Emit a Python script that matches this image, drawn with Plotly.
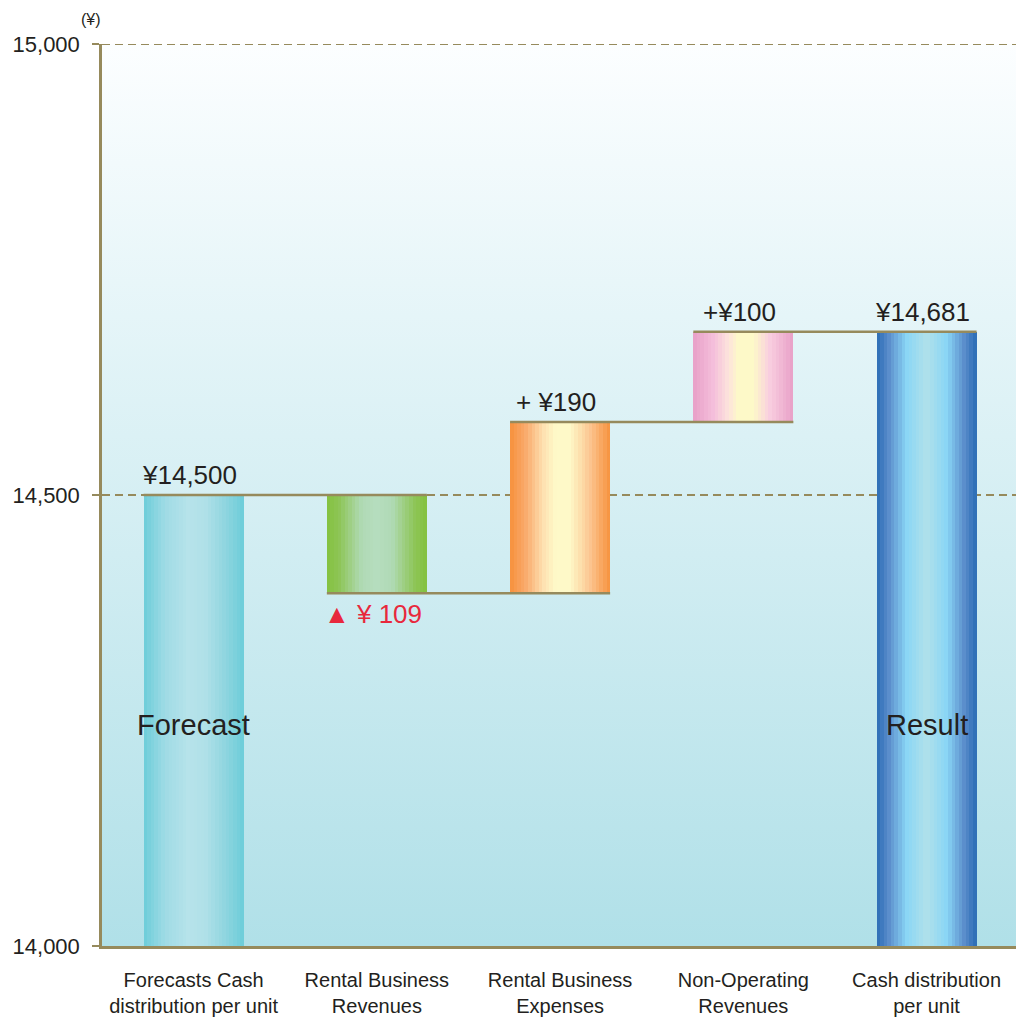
import base64
import plotly.graph_objects as go

# ---------------- data ----------------
categories = [
    "Forecasts Cash<br>distribution per unit",
    "Rental Business<br>Revenues",
    "Rental Business<br>Expenses",
    "Non-Operating<br>Revenues",
    "Cash distribution<br>per unit",
]
forecast_value = 14500
changes = [-109, 190, 100]
result_value = 14681
value_labels = ["¥14,500", "▲ ¥ 109", "+ ¥190", "+¥100", "¥14,681"]
inner_labels = ["Forecast", "", "", "", "Result"]
y_ticks = [14000, 14500, 15000]
y_tick_labels = ["14,000", "14,500", "15,000"]
axis_floor = 14000
axis_ceiling = 15000

# ---------------- style ----------------
FONT = "Liberation Sans, Arial, sans-serif"
OLIVE = "#968a5c"
TEXT = "#231f20"
RED = "#e8283c"
BAR_W = 0.546
N_STRIPS = 28

gradients = [
    [(0, "#6ccdd9"), (0.22, "#a0dbe5"), (0.45, "#b6e3ea"), (0.62, "#b0e0e8"), (0.8, "#92d6e0"), (1, "#6ccdd9")],
    [(0, "#84c13f"), (0.12, "#8dc556"), (0.35, "#b0dab5"), (0.5, "#b6ddbf"), (0.65, "#b0dab5"), (0.88, "#8dc556"), (1, "#84c13f")],
    [(0, "#f7913d"), (0.15, "#f9a96a"), (0.33, "#fee0b0"), (0.45, "#fef9c8"), (0.6, "#fef9c8"), (0.8, "#fcc590"), (1, "#f7913d")],
    [(0, "#e89fc7"), (0.2, "#f4bfdb"), (0.35, "#fde2dc"), (0.45, "#fdf9c8"), (0.6, "#fdf9c8"), (0.76, "#f9cfe0"), (1, "#e89fc7")],
    [(0, "#2a6cb5"), (0.12, "#5a8ccb"), (0.3, "#8ad6f5"), (0.5, "#b0e1ea"), (0.7, "#8ad6f5"), (0.88, "#5a8ccb"), (1, "#2a6cb5")],
]


def hex2rgb(h):
    h = h.lstrip("#")
    return tuple(int(h[i:i + 2], 16) for i in (0, 2, 4))


def interp(stops, t):
    for (p0, c0), (p1, c1) in zip(stops[:-1], stops[1:]):
        if p0 <= t <= p1:
            f = 0 if p1 == p0 else (t - p0) / (p1 - p0)
            a, b = hex2rgb(c0), hex2rgb(c1)
            r = [round(a[k] + (b[k] - a[k]) * f) for k in range(3)]
            return "rgb(%d,%d,%d)" % tuple(r)
    return stops[-1][1]


# ---------------- derived waterfall geometry ----------------
running = [forecast_value]
for c in changes:
    running.append(running[-1] + c)
bases, tops = [axis_floor], [forecast_value]
for i, c in enumerate(changes):
    lo, hi = sorted([running[i], running[i + 1]])
    bases.append(lo)
    tops.append(hi)
bases.append(axis_floor)
tops.append(result_value)
heights = [t - b for t, b in zip(tops, bases)]
xpos = list(range(len(categories)))

fig = go.Figure()

# gradient bars drawn as vertical strips
strip = BAR_W / N_STRIPS
for i in range(N_STRIPS):
    t = (i + 0.5) / N_STRIPS
    off = -BAR_W / 2 + i * strip
    w = min(strip * 1.4, BAR_W / 2 - off)
    fig.add_trace(go.Bar(
        x=xpos, y=heights, base=bases,
        width=[w] * len(xpos), offset=[off] * len(xpos),
        marker=dict(color=[interp(g, t) for g in gradients], line=dict(width=0)),
        showlegend=False, hoverinfo="skip",
    ))

# connectors
cx, cy = [], []
for j in range(len(running)):
    cx += [xpos[j] - BAR_W / 2, xpos[j + 1] + BAR_W / 2, None]
    cy += [running[j], running[j], None]
fig.add_trace(go.Scatter(x=cx, y=cy, mode="lines", line=dict(color=OLIVE, width=2.5),
                         showlegend=False, hoverinfo="skip"))

# value labels
for j, lab in enumerate(value_labels):
    negative = 0 < j < len(value_labels) - 1 and changes[j - 1] < 0
    fig.add_annotation(
        x=xpos[j] - 0.02, y=bases[j] if negative else tops[j],
        text=lab, showarrow=False,
        yanchor="top" if negative else "bottom",
        yshift=-4 if negative else 3,
        font=dict(family=FONT, size=26, color=RED if negative else TEXT),
    )
for j, lab in enumerate(inner_labels):
    if lab:
        fig.add_annotation(x=xpos[j], y=14245, text=lab, showarrow=False,
                           font=dict(family=FONT, size=29, color=TEXT))

fig.add_annotation(xref="paper", yref="paper", x=0, y=1, xanchor="right", yanchor="bottom",
                   xshift=1, yshift=14, text="(¥)", showarrow=False,
                   font=dict(family=FONT, size=16, color=TEXT))

# dashed top grid line (plotly hides grid lines on the range edge)
fig.add_shape(type="line", xref="paper", yref="y", x0=0, x1=1, y0=axis_ceiling, y1=axis_ceiling,
              line=dict(color=OLIVE, width=2, dash="8px,5px"), layer="below")
fig.add_shape(type="line", xref="paper", yref="y", x0=-0.008, x1=0, y0=axis_ceiling, y1=axis_ceiling,
              line=dict(color=OLIVE, width=2), layer="below")

# background gradient
svg = ('<svg xmlns="http://www.w3.org/2000/svg" width="10" height="100" preserveAspectRatio="none">'
       '<defs><linearGradient id="g" x1="0" y1="0" x2="0" y2="1">'
       '<stop offset="0" stop-color="#fcfeff"/><stop offset="1" stop-color="#b0e0e8"/>'
       '</linearGradient></defs><rect width="10" height="100" fill="url(#g)"/></svg>')
src = "data:image/svg+xml;base64," + base64.b64encode(svg.encode()).decode()
fig.add_layout_image(source=src, xref="paper", yref="paper", x=0, y=1, sizex=1, sizey=1,
                     xanchor="left", yanchor="top", sizing="stretch", layer="below")

fig.update_layout(
    width=1016, height=1018,
    margin=dict(l=102, r=0, t=44, b=72),
    paper_bgcolor="white", plot_bgcolor="rgba(0,0,0,0)",
    barmode="overlay", bargap=0,
    font=dict(family=FONT, color=TEXT),
)
fig.update_xaxes(
    range=[-0.5, 4.488], tickvals=xpos, ticktext=categories,
    showgrid=False, zeroline=False, showline=True, linecolor=OLIVE, linewidth=2.5,
    ticks="", ticklabelstandoff=14,
    tickfont=dict(family=FONT, size=20, color=TEXT), fixedrange=True,
)
fig.update_yaxes(
    range=[axis_floor, axis_ceiling], tickvals=y_ticks, ticktext=y_tick_labels,
    showgrid=True, gridcolor=OLIVE, gridwidth=2, griddash="8px,5px",
    zeroline=False, showline=True, linecolor=OLIVE, linewidth=2.5,
    ticks="outside", ticklen=7, tickcolor=OLIVE, tickwidth=2, ticklabelstandoff=8,
    tickfont=dict(family=FONT, size=22, color=TEXT), fixedrange=True,
)

fig.write_html("out.html")
